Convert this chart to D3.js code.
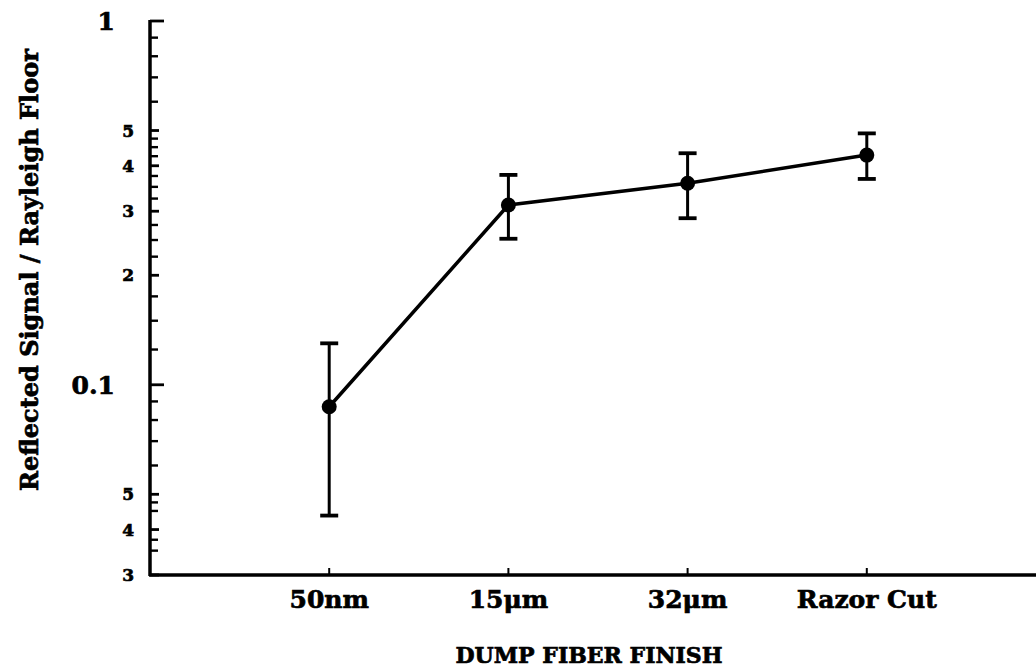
<!DOCTYPE html>
<html>
<head>
<meta charset="utf-8">
<script src="https://cdn.jsdelivr.net/npm/d3@7"></script>
<style>
  body { margin: 0; background: #fff; }
  svg { display: block; }
  text { font-family: "DejaVu Serif", serif; font-weight: bold; fill: #000; stroke: #000; stroke-width: 0.7px; }
</style>
</head>
<body>
<div id="chart"></div>
<script>
// data
var categories = ["50nm", "15\u03bcm", "32\u03bcm", "Razor Cut"];
var values     = [0.087, 0.312, 0.358, 0.428];
var errLow     = [0.0437, 0.252, 0.287, 0.368];
var errHigh    = [0.130, 0.3775, 0.433, 0.491];

var yTickValues = [1, 0.5, 0.4, 0.3, 0.2, 0.1, 0.05, 0.04, 0.03];
var yTickLabels = ["1", "5", "4", "3", "2", "0.1", "5", "4", "3"];
var yMinorTicks = [0.9, 0.8, 0.7, 0.6, 0.475, 0.45, 0.425, 0.375, 0.35, 0.325,
                   0.275, 0.25, 0.225, 0.175, 0.15, 0.125,
                   0.09, 0.08, 0.07, 0.06, 0.0475, 0.045, 0.0375, 0.035];

var width = 1036, height = 670;
var x0 = 150, yBase = 575, yTop = 21;

var svg = d3.select("#chart").append("svg")
  .attr("width", width)
  .attr("height", height);

var x = d3.scalePoint()
  .domain(categories)
  .range([x0, 1046])
  .padding(1);

var y = d3.scaleLog()
  .domain([0.03, 1])
  .range([yBase, yTop]);

//////////////////////////////////////////////////////
// AXES
//////////////////////////////////////////////////////
var axes = svg.append("g").attr("class", "axes");

axes.append("line")
  .attr("x1", x0).attr("x2", x0)
  .attr("y1", yTop - 1).attr("y2", yBase + 1)
  .attr("stroke", "#000").attr("stroke-width", 3.5);

axes.append("line")
  .attr("x1", x0 - 1).attr("x2", width)
  .attr("y1", yBase).attr("y2", yBase)
  .attr("stroke", "#000").attr("stroke-width", 3.5);

// y ticks point inward
axes.selectAll(".yMinor")
  .data(yMinorTicks)
  .enter().append("line")
  .attr("x1", x0).attr("x2", x0 + 8)
  .attr("y1", function(d) { return y(d); })
  .attr("y2", function(d) { return y(d); })
  .attr("stroke", "#000").attr("stroke-width", 2.4);

axes.selectAll(".yMajor")
  .data(yTickValues)
  .enter().append("line")
  .attr("x1", x0)
  .attr("x2", function(d) { return (d === 1 || d === 0.1) ? x0 + 14 : x0 + 9; })
  .attr("y1", function(d) { return y(d); })
  .attr("y2", function(d) { return y(d); })
  .attr("stroke", "#000").attr("stroke-width", 2.8);

axes.selectAll(".yLabel")
  .data(yTickValues)
  .enter().append("text")
  .attr("text-anchor", "end")
  .attr("x", function(d, i) { return yTickLabels[i].length > 1 || d === 1 ? 115 : 134; })
  .attr("y", function(d) { return y(d); })
  .attr("dy", "0.36em")
  .attr("font-size", function(d, i) { return yTickLabels[i].length > 1 || d === 1 ? 25 : 17; })
  .text(function(d, i) { return yTickLabels[i]; });

// x ticks point up
axes.selectAll(".xTick")
  .data(categories)
  .enter().append("line")
  .attr("x1", function(d) { return x(d); })
  .attr("x2", function(d) { return x(d); })
  .attr("y1", yBase).attr("y2", yBase - 7)
  .attr("stroke", "#000").attr("stroke-width", 2);

axes.selectAll(".xLabel")
  .data(categories)
  .enter().append("text")
  .attr("text-anchor", "middle")
  .attr("x", function(d) { return x(d); })
  .attr("y", 608)
  .attr("font-size", 25)
  .text(function(d) { return d; });

svg.append("text")
  .attr("text-anchor", "middle")
  .attr("x", 589).attr("y", 663)
  .attr("font-size", 22)
  .text("DUMP FIBER FINISH");

svg.append("text")
  .attr("text-anchor", "middle")
  .attr("transform", "translate(38,270) rotate(-90)")
  .attr("font-size", 24)
  .text("Reflected Signal / Rayleigh Floor");

//////////////////////////////////////////////////////
// DATA
//////////////////////////////////////////////////////
var plot = svg.append("g").attr("class", "plot");

var errs = plot.selectAll(".err")
  .data(categories)
  .enter().append("g");

errs.append("line")
  .attr("x1", function(d) { return x(d); })
  .attr("x2", function(d) { return x(d); })
  .attr("y1", function(d, i) { return y(errLow[i]); })
  .attr("y2", function(d, i) { return y(errHigh[i]); })
  .attr("stroke", "#000").attr("stroke-width", 3);

errs.append("line")
  .attr("x1", function(d) { return x(d) - 9; })
  .attr("x2", function(d) { return x(d) + 9; })
  .attr("y1", function(d, i) { return y(errHigh[i]); })
  .attr("y2", function(d, i) { return y(errHigh[i]); })
  .attr("stroke", "#000").attr("stroke-width", 3.8);

errs.append("line")
  .attr("x1", function(d) { return x(d) - 9; })
  .attr("x2", function(d) { return x(d) + 9; })
  .attr("y1", function(d, i) { return y(errLow[i]); })
  .attr("y2", function(d, i) { return y(errLow[i]); })
  .attr("stroke", "#000").attr("stroke-width", 3.8);

var line = d3.line()
  .x(function(d, i) { return x(categories[i]); })
  .y(function(d) { return y(d); });

plot.append("path")
  .datum(values)
  .attr("d", line)
  .attr("fill", "none")
  .attr("stroke", "#000")
  .attr("stroke-width", 3.5);

plot.selectAll(".pt")
  .data(values)
  .enter().append("circle")
  .attr("cx", function(d, i) { return x(categories[i]); })
  .attr("cy", function(d) { return y(d); })
  .attr("r", 7.5)
  .attr("fill", "#000");
</script>
</body>
</html>
